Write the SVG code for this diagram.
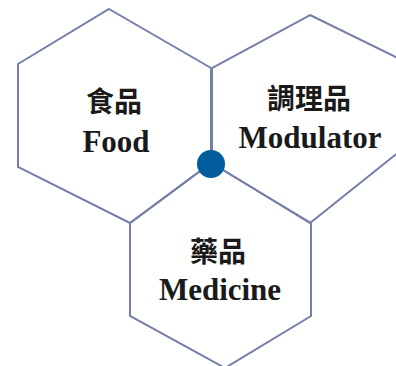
<svg xmlns="http://www.w3.org/2000/svg" width="396" height="366" viewBox="0 0 396 366">
<style>
.hex{fill:none;stroke:#7580a8;stroke-width:2;stroke-linejoin:miter}
.cjk{font-family:"Noto Sans CJK TC","Noto Sans CJK SC",sans-serif;font-weight:700;font-size:28px;fill:#1a1a1a;text-anchor:middle}
.en{font-family:"Liberation Serif",serif;font-weight:700;font-size:31px;fill:#1a1a1a;text-anchor:middle}
</style>
<rect width="396" height="366" fill="#ffffff"/>
<g id="food">
<polygon class="hex" points="109,9 211,68 211,163 130,223 18,167 18,64"/>
<text class="cjk" x="114" y="112">食品</text>
<text class="en" x="116" y="152">Food</text>
</g>
<g id="modulator">
<polygon class="hex" points="310,15 410,64 410,143 310,223 212,163 212,68"/>
<text class="cjk" x="309" y="109">調理品</text>
<text class="en" x="310" y="148">Modulator</text>
</g>
<g id="medicine">
<polygon class="hex" points="211,163 311,223 311,316 225,368 130,316 130,223"/>
<text class="cjk" x="218" y="262">藥品</text>
<text class="en" x="220" y="300">Medicine</text>
</g>
<g id="connectors">
<circle cx="211" cy="164" r="14" fill="#035d9c"/>
</g>
</svg>
